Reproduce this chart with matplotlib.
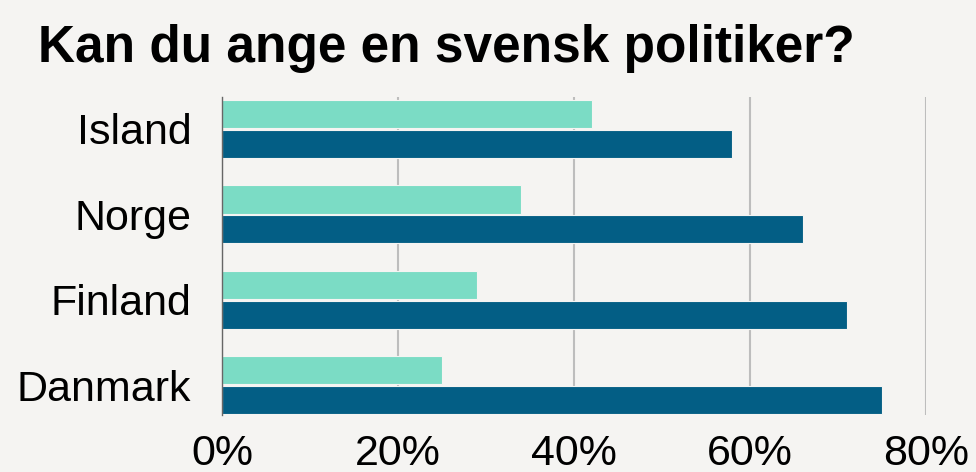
import matplotlib.pyplot as plt
import numpy as np

countries = ["Island", "Norge", "Finland", "Danmark"]
light_vals = [42, 34, 29, 25]
dark_vals = [58, 66, 71, 75]
xticks = [0, 20, 40, 60, 80]

bg = "#F5F4F2"
light_col = "#7BDCC5"
dark_col = "#035E85"

plt.rcParams["font.family"] = ["Liberation Sans", "DejaVu Sans"]

fig = plt.figure(figsize=(9.76, 4.72), dpi=100, facecolor=bg)
ax = fig.add_axes([0.2275, 0.1208, 0.9488 - 0.2275, 0.7945 - 0.1208])
ax.set_facecolor(bg)

y = np.arange(len(countries))
h = 0.33
ax.barh(y - 0.172, light_vals, height=h, color=light_col, edgecolor=bg, linewidth=0.8, zorder=3)
ax.barh(y + 0.178, dark_vals, height=h, color=dark_col, edgecolor=bg, linewidth=0.8, zorder=3)

ax.set_xlim(0, 80)
ax.set_ylim(3.35, -0.37)
ax.set_xticks(xticks)
ax.set_xticklabels([f"{t}%" for t in xticks], fontsize=31)
ax.set_yticks(y)
ax.set_yticklabels(countries, fontsize=31)
ax.tick_params(length=0)
ax.tick_params(axis="x", pad=14)
ax.tick_params(axis="y", pad=22)
ax.grid(axis="x", color="#BDBDBD", linewidth=1.5, zorder=0)
for s in ["top", "right", "bottom"]:
    ax.spines[s].set_visible(False)
ax.spines["left"].set_color("#666666")
ax.spines["left"].set_linewidth(1)
ax.spines["left"].set_zorder(4)

fig.text(0.039, 1 - 62 / 472, "Kan du ange en svensk politiker?", fontsize=37,
         fontweight="bold", va="baseline", ha="left")

fig.savefig("out.png", dpi=100, facecolor=bg)
